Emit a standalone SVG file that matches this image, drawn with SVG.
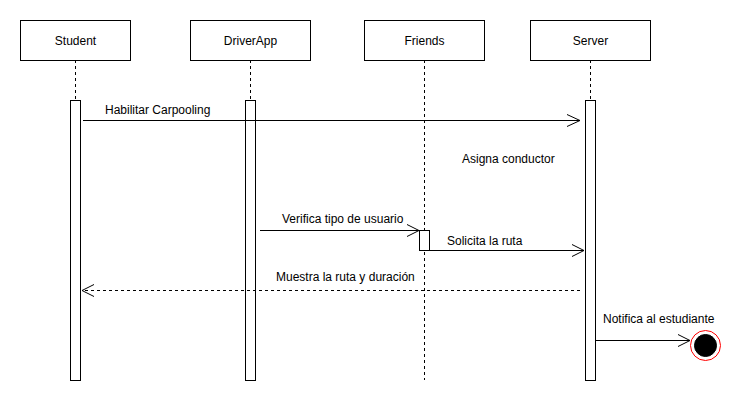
<svg xmlns="http://www.w3.org/2000/svg" width="751" height="402" viewBox="0 0 751 402">
<defs>
<style>
.box{fill:#fff;stroke:#000;stroke-width:1}
.life{stroke:#000;stroke-width:1;stroke-dasharray:3 3;fill:none}
.act{fill:#fff;stroke:#000;stroke-width:1}
.msg{stroke:#000;stroke-width:1;fill:none}
.head{stroke:#000;stroke-width:1;fill:none}
text{font-family:"Liberation Sans",Arial,Helvetica,sans-serif;font-size:12px;fill:#000}
.c{text-anchor:middle}
</style>
</defs>
<rect width="751" height="402" fill="#fff"/>
<g id="lifelines">
<line class="life" x1="75.5" y1="60" x2="75.5" y2="380"/>
<line class="life" x1="250.5" y1="60" x2="250.5" y2="380"/>
<line class="life" x1="424.5" y1="60" x2="424.5" y2="380"/>
<line class="life" x1="590.5" y1="60" x2="590.5" y2="380"/>
</g>
<g id="student">
<rect class="box" x="20.5" y="20.5" width="110" height="40"/>
<text class="c" x="75.5" y="45">Student</text>
<rect class="act" x="70.5" y="100.5" width="10" height="280"/>
</g>
<g id="driverapp">
<rect class="box" x="190.5" y="20.5" width="120" height="40"/>
<text class="c" x="250.5" y="45">DriverApp</text>
<rect class="act" x="245.5" y="100.5" width="10" height="280"/>
</g>
<g id="friends">
<rect class="box" x="364.5" y="20.5" width="120" height="40"/>
<text class="c" x="424.5" y="45">Friends</text>
<rect class="act" x="419.5" y="230.5" width="10" height="20"/>
</g>
<g id="server">
<rect class="box" x="530.5" y="20.5" width="120" height="40"/>
<text class="c" x="590.5" y="45">Server</text>
<rect class="act" x="585.5" y="100.5" width="10" height="280"/>
</g>
<g id="end">
<circle cx="705.5" cy="345.5" r="15" fill="#fff" stroke="#ff0000" stroke-width="1"/>
<circle cx="705.5" cy="345.5" r="11" fill="#000" stroke="#000"/>
</g>
<g id="connectors">
<line class="msg" x1="83" y1="120.5" x2="580" y2="120.5"/>
<polyline class="head" points="567,114.5 580,120.5 567,126.5"/>
<text x="105" y="114">Habilitar Carpooling</text>
<text x="462" y="163">Asigna conductor</text>
<line class="msg" x1="260" y1="230.5" x2="419" y2="230.5"/>
<polyline class="head" points="407,224.5 419,230.5 407,236.5"/>
<text x="282" y="223">Verifica tipo de usuario</text>
<line class="msg" x1="430" y1="250.5" x2="584" y2="250.5" stroke="#444"/>
<polyline class="head" points="572,244.5 584,250.5 572,256.5"/>
<text x="447" y="245">Solicita la ruta</text>
<line class="msg" x1="580" y1="290.5" x2="82" y2="290.5" stroke-dasharray="3 3"/>
<polyline class="head" points="94,284.5 82,290.5 94,296.5"/>
<text x="276" y="281">Muestra la ruta y duración</text>
<line class="msg" x1="596" y1="340.5" x2="690" y2="340.5"/>
<polyline class="head" points="678,334.5 690,340.5 678,346.5"/>
<text x="603" y="323">Notifica al estudiante</text>
</g>
</svg>
